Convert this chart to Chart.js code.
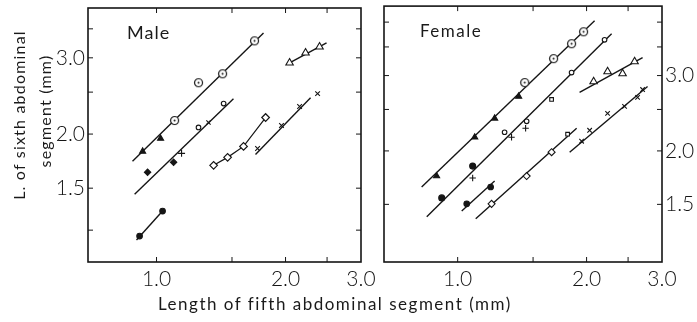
<!DOCTYPE html>
<html>
<head>
<meta charset="utf-8">
<script src="https://cdn.jsdelivr.net/npm/chart.js@4.4.1/dist/chart.umd.min.js"></script>
<style>
  body { margin: 0; background: #fff; }
  #wrap { position: relative; width: 697px; height: 322px; overflow: hidden;
          font-family: Lato, "DejaVu Sans", sans-serif; color: #1a1a1a; }
  canvas { position: absolute; left: 0; top: 0; }
  .txt { position: absolute; white-space: nowrap; line-height: 1; }
  .rot { transform: translate(-50%, -50%) rotate(-90deg); }
</style>
</head>
<body>
<div id="wrap">
  <canvas id="male" width="697" height="322"></canvas>
  <canvas id="female" width="697" height="322"></canvas>
  <div class="txt" style="left:127px; top:23px; font-size:18px; letter-spacing:1px;">Male</div>
  <div class="txt" style="left:420px; top:22px; font-size:17px; letter-spacing:1.5px;">Female</div>
  <div class="txt rot" style="left:19px; top:115px; font-size:16px; letter-spacing:1.2px;">L. of sixth abdominal</div>
  <div class="txt rot" style="left:45px; top:111px; font-size:16px; letter-spacing:1.2px;">segment (mm)</div>
  <div class="txt" style="left:158px; top:295px; font-size:17px; letter-spacing:1.5px;">Length of fifth abdominal segment (mm)</div>
</div>
<script>
// tick values (log axes)
const xTicks = [1.0, 1.5, 2.0, 2.5, 3.0];
const xLabels = [1.0, 2.0, 3.0];
const maleYTicks = [1.2, 1.5, 2.0, 2.5, 3.0, 3.5];
const femaleYTicks = [1.5, 2.0, 2.5, 3.0, 3.5, 4.0];
const yLabels = [1.5, 2.0, 3.0];

// male, [length of 5th, length of 6th]
const maleLineA = [[0.879, 1.730], [1.777, 3.425]];
const maleTriFilled = [[0.928, 1.824], [1.022, 1.954]];
const maleDotCircle = [[1.102, 2.149], [1.253, 2.628], [1.426, 2.756], [1.693, 3.283]];
const maleLineB = [[0.889, 1.453], [1.512, 2.414]];
const maleDiamondFilled = [[0.953, 1.632], [1.096, 1.721]];
const malePlus = [[1.144, 1.805]];
const maleSmallCircle = [[1.253, 2.072], [1.434, 2.352]];
const maleCrossB = [[1.322, 2.127]];
const maleLineC = [[0.898, 1.139], [1.033, 1.328]];
const maleDiscs = [[0.913, 1.163], [1.033, 1.328]];
const maleDiamondOpen = [[1.359, 1.694], [1.465, 1.767], [1.596, 1.873], [1.797, 2.184]];
const maleLineE = [[1.702, 1.795], [2.288, 2.427]];
const maleCrossE = [[1.721, 1.853], [1.957, 2.094], [2.157, 2.315], [2.376, 2.480]];
const maleLineF = [[2.044, 2.922], [2.493, 3.248]];
const maleTriOpen = [[2.044, 2.922], [2.227, 3.080], [2.401, 3.180]];

// female
const femLineA = [[0.824, 1.647], [2.088, 4.027]];
const femTriFilled = [[0.893, 1.747], [1.096, 2.152], [1.220, 2.383], [1.388, 2.682]];
const femDotCircle = [[1.434, 2.889], [1.675, 3.286], [1.845, 3.561], [1.968, 3.797]];
const femLineB = [[0.847, 1.403], [2.288, 3.757]];
const femDiscsB = [[0.918, 1.553], [1.084, 1.843]];
const femPlus = [[1.084, 1.729], [1.336, 2.152], [1.441, 2.259]];
const femSmallCircle = [[1.287, 2.211], [1.449, 2.345], [1.845, 3.049], [2.203, 3.637]];
const femSquareB = [[1.657, 2.638]];
const femLineC = [[1.022, 1.448], [1.220, 1.701]];
const femDiscsC = [[1.050, 1.504], [1.194, 1.647]];
const femLineD = [[1.102, 1.388], [1.896, 2.259]];
const femDiamondOpen = [[1.200, 1.504], [1.449, 1.747], [1.657, 1.986]];
const femSquareD = [[1.806, 2.188]];
const femLineE = [[1.826, 1.986], [2.776, 2.829]];
const femCrossE = [[1.947, 2.107], [2.033, 2.235], [2.239, 2.447], [2.453, 2.541], [2.631, 2.667], [2.703, 2.783]];
const femLineF = [[1.926, 2.740], [2.703, 3.304]];
const femTriOpen = [[2.077, 2.905], [2.239, 3.064], [2.427, 3.033], [2.589, 3.234]];

const INK = "#151515";
const tickFont = { family: "Lato, 'DejaVu Sans', sans-serif", size: 21, weight: "300" };

function pts(arr) {
    return arr.map(p => ({ x: p[0], y: p[1] }));
}

// circle with a dot in the middle
function dotCircle() {
    const c = document.createElement("canvas");
    c.width = 11; c.height = 11;
    const g = c.getContext("2d");
    g.fillStyle = "#fff";
    g.strokeStyle = INK;
    g.lineWidth = 1.2;
    g.beginPath(); g.arc(5.5, 5.5, 4, 0, Math.PI * 2); g.fill(); g.stroke();
    g.fillStyle = INK;
    g.beginPath(); g.arc(5.5, 5.5, 1, 0, Math.PI * 2); g.fill();
    return c;
}
const dotCircleImg = dotCircle();

function line(arr) {
    return { type: "line", data: pts(arr), borderColor: INK, borderWidth: 1.4,
             pointRadius: 0, showLine: true, order: 2 };
}
function marks(arr, style, radius, filled, extra) {
    return Object.assign({ type: "scatter", data: pts(arr), pointStyle: style, pointRadius: radius,
             borderColor: INK, backgroundColor: filled ? INK : "#fff", borderWidth: 1.1, order: 1 }, extra || {});
}

const framePlugin = {
    id: "frame",
    afterDatasetsDraw(chart, args, opts) {
        const { ctx, chartArea: a, scales } = chart;
        ctx.save();
        ctx.strokeStyle = INK;
        ctx.lineWidth = 1.6;
        ctx.strokeRect(a.left, a.top, a.right - a.left, a.bottom - a.top);
        ctx.lineWidth = 1;
        ctx.beginPath();
        opts.xTicks.forEach(v => {
            const px = scales.x.getPixelForValue(v);
            if (px <= a.left + 1 || px >= a.right - 1) return;
            ctx.moveTo(px, a.bottom); ctx.lineTo(px, a.bottom - 5);
            ctx.moveTo(px, a.top); ctx.lineTo(px, a.top + 5);
        });
        opts.yTicks.forEach(v => {
            const py = scales.y.getPixelForValue(v);
            if (py <= a.top + 1 || py >= a.bottom - 1) return;
            ctx.moveTo(a.left, py); ctx.lineTo(a.left + 5, py);
            ctx.moveTo(a.right, py); ctx.lineTo(a.right - 5, py);
        });
        ctx.stroke();
        ctx.restore();
    }
};

function fixBox(size, horizontal) {
    return function (s) {
        if (horizontal) s.height = size; else s.width = size;
        s.paddingLeft = 0; s.paddingRight = 0; s.paddingTop = 0; s.paddingBottom = 0;
    };
}

function makeChart(id, datasets, o) {
    return new Chart(document.getElementById(id), {
        data: { datasets },
        plugins: [framePlugin],
        options: {
            responsive: false,
            animation: false,
            layout: { padding: o.padding },
            plugins: { legend: { display: false }, tooltip: { enabled: false },
                       frame: { xTicks: xTicks, yTicks: o.yTicks } },
            scales: {
                x: {
                    type: "logarithmic", position: "bottom", min: o.xMin, max: 3.0,
                    grid: { display: false, drawTicks: false }, border: { display: false },
                    afterBuildTicks: s => { s.ticks = xTicks.map(v => ({ value: v })); },
                    afterFit: fixBox(60, true),
                    ticks: { font: tickFont, color: INK, padding: 5, autoSkip: false, maxRotation: 0,
                             callback: v => xLabels.includes(v) ? v.toFixed(1) : "" }
                },
                y: {
                    type: "logarithmic", position: o.yPos, min: o.yMin, max: o.yMax,
                    grid: { display: false, drawTicks: false }, border: { display: false },
                    afterBuildTicks: s => { s.ticks = o.yTicks.map(v => ({ value: v })); },
                    afterFit: fixBox(o.yWidth, false),
                    ticks: { font: tickFont, color: INK, padding: 3, autoSkip: false,
                             callback: v => yLabels.includes(v) ? v.toFixed(1) : "" }
                }
            }
        }
    });
}

makeChart("male", [
    marks(maleTriFilled, "triangle", 3.5, true),
    marks(maleDotCircle, dotCircleImg, 5, false),
    marks(maleDiamondFilled, "rectRot", 3.2, true),
    marks(malePlus, "cross", 3.5, false),
    marks(maleSmallCircle, "circle", 2.3, false),
    marks(maleCrossB, "crossRot", 3, false),
    marks(maleDiscs, "circle", 2.8, true),
    marks(maleDiamondOpen, "rectRot", 3.8, false, { type: "line", showLine: true, borderWidth: 1.2 }),
    marks(maleCrossE, "crossRot", 3.3, false),
    marks(maleTriOpen, "triangle", 4.3, false),
    line(maleLineA), line(maleLineB), line(maleLineC), line(maleLineE), line(maleLineF)
], { padding: { left: 0, top: 8, right: 336, bottom: 0 }, xMin: 0.692, yMin: 1.013, yMax: 3.91,
     yTicks: maleYTicks, yPos: "left", yWidth: 88 });

makeChart("female", [
    marks(femTriFilled, "triangle", 3.5, true),
    marks(femDotCircle, dotCircleImg, 5, false),
    marks(femDiscsB, "circle", 3, true),
    marks(femPlus, "cross", 3.2, false),
    marks(femSmallCircle, "circle", 2.3, false),
    marks(femSquareB, "rect", 2.6, false),
    marks(femDiscsC, "circle", 2.8, true),
    marks(femDiamondOpen, "rectRot", 3.5, false),
    marks(femSquareD, "rect", 2.6, false),
    marks(femCrossE, "crossRot", 3.2, false),
    marks(femTriOpen, "triangle", 4.3, false),
    line(femLineA), line(femLineB), line(femLineC), line(femLineD), line(femLineE), line(femLineF)
], { padding: { left: 384, top: 5, right: 0, bottom: 0 }, xMin: 0.673, yMin: 1.10, yMax: 4.36,
     yTicks: femaleYTicks, yPos: "right", yWidth: 35 });
</script>
</body>
</html>
